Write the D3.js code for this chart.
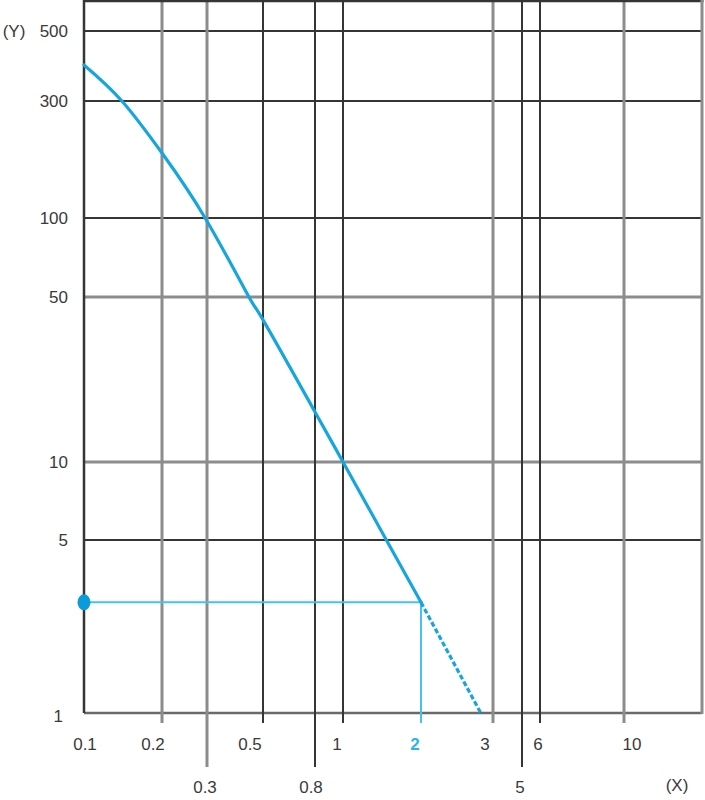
<!DOCTYPE html>
<html><head><meta charset="utf-8">
<script src="https://cdn.jsdelivr.net/npm/d3@7"></script>
<style>html,body{margin:0;padding:0;background:#fff;} svg{display:block;} text{font-family:"Liberation Sans",Arial,sans-serif;font-size:17px;fill:#3a3a3a;}</style>
</head><body><svg id="c" width="705" height="800"></svg>
<script>
(function () {
// ---- data ----
const xTicks = [0.1, 0.2, 0.3, 0.5, 0.8, 1, 2, 3, 5, 6, 10];
const xTickLabels = ["0.1", "0.2", "0.3", "0.5", "0.8", "1", "2", "3", "5", "6", "10"];
const yTicks = [1, 5, 10, 50, 100, 300, 500];
const yTickLabels = ["1", "5", "10", "50", "100", "300", "500"];
const curveX = [0.1, 0.14, 0.2, 0.295, 0.44, 0.5, 0.8, 1, 1.47, 2];
const curveY = [390, 300, 184, 100, 50, 40, 16.3, 10, 5, 2.8];
const extrapX = [2, 2.8];
const extrapY = [2.8, 1];
const readX = 2, readY = 2.8;

// ---- layout / style ----
const svg = d3.select("#c");
const pLeft = 84, pRight = 702, pTop = 1, pBottom = 713;
const x = d3.scaleLog().domain(xTicks).range([84, 162, 207, 263, 315, 343, 421, 493, 522, 540, 624]);
const y = d3.scaleLog().domain(yTicks).range([713, 540, 462, 297, 218, 101, 31]);
const xStyle = {0.1: "axis", 0.2: "gray", 0.3: "gray", 0.5: "dark", 0.8: "dark", 1: "dark", 2: "blue", 3: "gray", 5: "dark", 6: "dark", 10: "gray"};
const xLong = new Set([0.3, 0.8, 5]);
const xLabelShift = {0.1: 1, 0.2: -9, 0.3: -2, 0.5: -13, 0.8: -4, 1: -6, 2: -6, 3: -8, 5: -2, 6: -2, 10: 8};
const yStyle = {1: "bottom", 5: "dark", 10: "gray", 50: "gray", 100: "dark", 300: "dark", 500: "dark"};
const col = {dark: "#353535", gray: "#8c8c8c", axis: "#353535", bottom: "#6a6a6a", blue: "#45c3ef"};
const wid = {dark: 2, gray: 3, axis: 2.5, bottom: 2.5, blue: 2};
const blue = "#16a6dd";

// horizontal grid
svg.append("g").selectAll("line").data(yTicks).join("line")
  .attr("x1", pLeft).attr("x2", pRight)
  .attr("y1", d => y(d)).attr("y2", d => y(d))
  .attr("stroke", d => col[yStyle[d]]).attr("stroke-width", d => wid[yStyle[d]]);

// vertical grid (with tick extensions)
svg.append("g").selectAll("line").data(xTicks.filter(d => xStyle[d] !== "blue")).join("line")
  .attr("x1", d => x(d)).attr("x2", d => x(d))
  .attr("y1", pTop - 1)
  .attr("y2", d => d === 0.1 ? pBottom : (xLong.has(d) ? 767 : 723))
  .attr("stroke", d => col[xStyle[d]]).attr("stroke-width", d => wid[xStyle[d]]);

// borders
svg.append("line").attr("x1", pLeft).attr("x2", pRight + 1.5).attr("y1", pTop).attr("y2", pTop)
  .attr("stroke", col.dark).attr("stroke-width", 2.5);
svg.append("line").attr("x1", pRight).attr("x2", pRight).attr("y1", 0).attr("y2", pBottom + 1)
  .attr("stroke", col.gray).attr("stroke-width", 3);

// reading guides
svg.append("line").attr("x1", pLeft).attr("x2", x(readX))
  .attr("y1", y(readY)).attr("y2", y(readY))
  .attr("stroke", col.blue).attr("stroke-width", 2);
svg.append("line").attr("x1", x(readX)).attr("x2", x(readX))
  .attr("y1", y(readY)).attr("y2", 723)
  .attr("stroke", col.blue).attr("stroke-width", 2);

// curve
const line = d3.line().x(d => x(d[0])).y(d => y(d[1])).curve(d3.curveNatural);
svg.append("path").datum(d3.zip(curveX, curveY)).attr("d", line)
  .attr("fill", "none").attr("stroke", blue).attr("stroke-width", 3.2).attr("stroke-linecap", "round");
svg.append("path").datum(d3.zip(extrapX, extrapY)).attr("d", d3.line().x(d => x(d[0])).y(d => y(d[1])))
  .attr("fill", "none").attr("stroke", blue).attr("stroke-width", 3.2).attr("stroke-dasharray", "5,2.5");

// marker dot
svg.append("ellipse").attr("cx", x(0.1)).attr("cy", y(readY)).attr("rx", 6.5).attr("ry", 8)
  .attr("fill", "#0a9bd8");

// y labels
svg.append("g").selectAll("text").data(yTicks).join("text")
  .attr("x", d => d === 1 ? 63 : 68).attr("y", d => y(d)).attr("dy", d => d === 1 ? "0.5em" : "0.35em")
  .attr("text-anchor", "end").text((d, i) => yTickLabels[i]);
svg.append("text").attr("x", 14).attr("y", y(500)).attr("dy", "0.35em").attr("text-anchor", "middle").text("(Y)");

// x labels
svg.append("g").selectAll("text").data(xTicks).join("text")
  .attr("x", d => x(d) + xLabelShift[d])
  .attr("y", d => xLong.has(d) ? 793 : 750)
  .attr("text-anchor", "middle")
  .style("fill", d => xStyle[d] === "blue" ? "#2ab4e8" : null)
  .style("font-weight", d => xStyle[d] === "blue" ? "bold" : null)
  .text((d, i) => xTickLabels[i]);
svg.append("text").attr("x", 677).attr("y", 791).attr("text-anchor", "middle").text("(X)");
})();
</script>
</body></html>
